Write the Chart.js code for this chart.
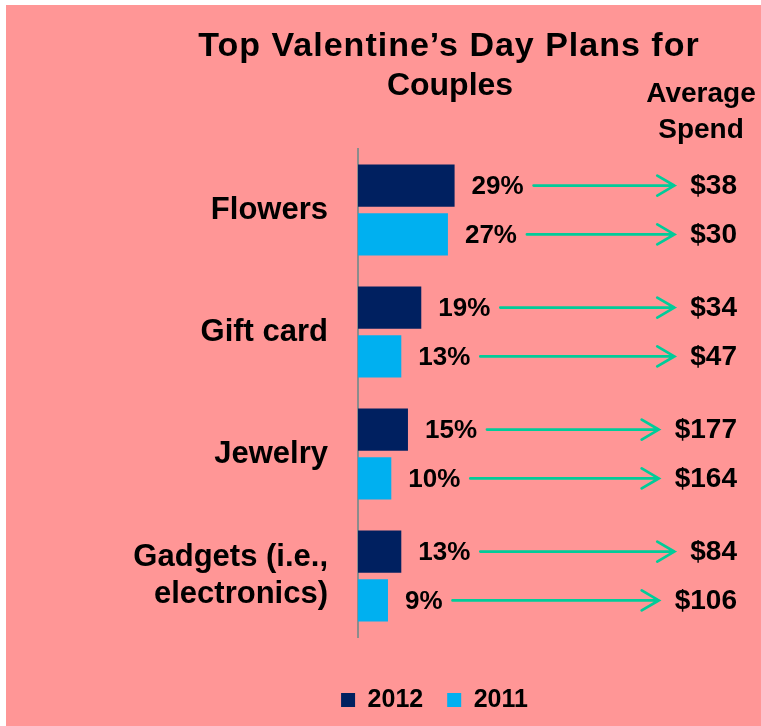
<!DOCTYPE html>
<html lang="en">
<head>
    <meta charset="UTF-8">
    <title>Top Valentine's Day Plans for Couples</title>
    <style>
        body {
            margin: 0;
            padding: 0;
            background: #ffffff;
        }
        .frame {
            position: absolute;
            left: 6px;
            top: 5px;
            width: 755px;
            height: 721px;
            background: #ff9696;
        }
    </style>
</head>
<body>

<div class="frame">
    <canvas id="plansChart" width="755" height="721"></canvas>
</div>

<script src="https://cdn.jsdelivr.net/npm/chart.js"></script>
<script>
    // plan categories and share of couples per year (%)
    const plans = ['Flowers', 'Gift card', 'Jewelry', ['Gadgets (i.e.,', 'electronics)']];
    const years = ['2012', '2011'];
    const share2012 = [29, 19, 15, 13];
    const share2011 = [27, 13, 10, 9];
    // average spend per plan, same order as the bars
    const spend2012 = ['$38', '$34', '$177', '$84'];
    const spend2011 = ['$30', '$47', '$164', '$106'];

    const titleLines = ['Top Valentine\u2019s Day Plans for', 'Couples'];
    const spendHeader = ['Average', 'Spend'];

    const FONT = "'Liberation Sans', Arial, sans-serif";
    const ARROW = '#00cc99';

    Chart.defaults.font.family = FONT;
    Chart.defaults.color = '#000000';

    // headings, percentages, arrows and spend figures
    const annotations = {
        id: 'annotations',
        afterDatasetsDraw(chart) {
            const ctx = chart.ctx;
            const spends = [spend2012, spend2011];
            const shares = [share2012, share2011];
            const spendRight = 731;

            ctx.save();
            ctx.fillStyle = '#000000';

            // title
            ctx.textAlign = 'center';
            ctx.textBaseline = 'alphabetic';
            ctx.font = 'bold 34px ' + FONT;
            ctx.letterSpacing = '1px';
            ctx.fillText(titleLines[0], 443, 51);
            ctx.letterSpacing = '0px';
            ctx.font = 'bold 32px ' + FONT;
            ctx.fillText(titleLines[1], 444, 90);

            // column header
            ctx.font = 'bold 28px ' + FONT;
            ctx.fillText(spendHeader[0], 695, 97);
            ctx.fillText(spendHeader[1], 695, 133);

            ctx.textBaseline = 'middle';
            shares.forEach((values, i) => {
                const meta = chart.getDatasetMeta(i);
                meta.data.forEach((bar, j) => {
                    const pct = values[j] + '%';
                    const labelX = bar.x + 17;

                    ctx.font = 'bold 26px ' + FONT;
                    ctx.textAlign = 'left';
                    ctx.fillText(pct, labelX, bar.y + 1);
                    const pctWidth = ctx.measureText(pct).width;

                    ctx.font = 'bold 28px ' + FONT;
                    ctx.textAlign = 'right';
                    ctx.fillText(spends[i][j], spendRight, bar.y + 1);
                    const spendWidth = ctx.measureText(spends[i][j]).width;

                    const x0 = labelX + pctWidth + 10;
                    const x1 = spendRight - spendWidth - 16;
                    ctx.strokeStyle = ARROW;
                    ctx.lineWidth = 2.8;
                    ctx.lineCap = 'round';
                    ctx.beginPath();
                    ctx.moveTo(x0, bar.y);
                    ctx.lineTo(x1, bar.y);
                    ctx.moveTo(x1 - 17, bar.y - 10);
                    ctx.lineTo(x1, bar.y);
                    ctx.lineTo(x1 - 17, bar.y + 10);
                    ctx.stroke();
                });
            });
            ctx.restore();
        }
    };

    new Chart(document.getElementById('plansChart').getContext('2d'), {
        type: 'bar',
        data: {
            labels: plans,
            datasets: [{
                label: years[0],
                data: share2012,
                backgroundColor: '#002060',
                categoryPercentage: 0.8,
                barPercentage: 0.865
            }, {
                label: years[1],
                data: share2011,
                backgroundColor: '#00b0f0',
                categoryPercentage: 0.8,
                barPercentage: 0.865
            }]
        },
        options: {
            indexAxis: 'y',
            responsive: false,
            animation: false,
            devicePixelRatio: 1,
            layout: {
                padding: { top: 144, left: 102, right: 0, bottom: 3.5 }
            },
            scales: {
                x: {
                    min: 0,
                    max: 121,
                    grid: { display: false },
                    border: { display: false },
                    ticks: { display: false },
                    afterFit(scale) { scale.height = 26.5; }
                },
                y: {
                    grid: { display: false, drawTicks: false, tickLength: 0 },
                    border: { display: true, color: '#8c8c8c', width: 2 },
                    ticks: {
                        padding: 30,
                        color: '#000000',
                        font: { size: 31, weight: 'bold', lineHeight: 1.22 }
                    },
                    afterFit(scale) { scale.width = 250; }
                }
            },
            plugins: {
                legend: {
                    position: 'bottom',
                    labels: {
                        boxWidth: 14,
                        boxHeight: 14,
                        padding: 24,
                        color: '#000000',
                        font: { size: 25, weight: 'bold' }
                    }
                },
                tooltip: { enabled: false },
                title: { display: false }
            }
        },
        plugins: [annotations]
    });
</script>

</body>
</html>
